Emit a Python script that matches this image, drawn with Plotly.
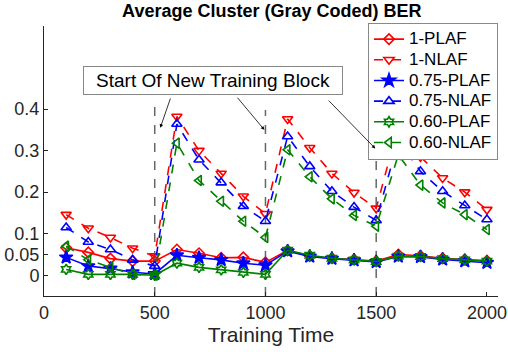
import plotly.graph_objects as go

# training time samples
t = [100, 200, 300, 400, 500, 600, 700, 800, 900, 1000,
     1100, 1200, 1300, 1400, 1500, 1600, 1700, 1800, 1900, 2000]

# BER values
plaf_1 = [0.066, 0.055, 0.040, 0.034, 0.034, 0.062, 0.053, 0.042, 0.043, 0.031,
          0.060, 0.046, 0.041, 0.038, 0.034, 0.050, 0.047, 0.041, 0.038, 0.035]
nlaf_1 = [0.146, 0.113, 0.091, 0.065, 0.046, 0.382, 0.300, 0.245, 0.190, 0.148,
          0.376, 0.307, 0.245, 0.199, 0.161, 0.360, 0.285, 0.234, 0.200, 0.158]
plaf_075 = [0.043, 0.022, 0.016, 0.007, 0.003, 0.048, 0.042, 0.037, 0.029, 0.024,
            0.058, 0.045, 0.040, 0.036, 0.032, 0.045, 0.044, 0.038, 0.034, 0.030]
nlaf_075 = [0.115, 0.080, 0.062, 0.037, 0.022, 0.364, 0.278, 0.223, 0.166, 0.130,
            0.334, 0.262, 0.202, 0.164, 0.132, 0.325, 0.250, 0.202, 0.168, 0.134]
plaf_060 = [0.014, 0.002, 0.002, 0.002, 0.000, 0.029, 0.019, 0.013, 0.007, 0.002,
            0.060, 0.048, 0.041, 0.037, 0.033, 0.046, 0.045, 0.040, 0.037, 0.034]
nlaf_060 = [0.070, 0.037, 0.019, 0.002, 0.000, 0.318, 0.228, 0.178, 0.130, 0.091,
            0.302, 0.237, 0.184, 0.144, 0.118, 0.290, 0.217, 0.174, 0.146, 0.110]

# block boundaries and how high their dashed markers go
blocks = [500, 1000, 1500]
block_tops = [0.422, 0.398, 0.350]

series = [
    ("1-PLAF", plaf_1, "red", "solid", "diamond-open", 8),
    ("1-NLAF", nlaf_1, "red", "dash", "triangle-down-open", 9),
    ("0.75-PLAF", plaf_075, "blue", "solid", "star", 10),
    ("0.75-NLAF", nlaf_075, "blue", "dash", "triangle-up-open", 9),
    ("0.60-PLAF", plaf_060, "green", "solid", "hexagram-open", 8),
    ("0.60-NLAF", nlaf_060, "green", "dash", "triangle-left-open", 9),
]

fig = go.Figure()

# dashed block boundaries
for b, top in zip(blocks, block_tops):
    fig.add_scatter(x=[b, b], y=[-0.05, top], mode="lines",
                    line=dict(color="#666666", width=1.5, dash="dash"),
                    showlegend=False, hoverinfo="skip")

for name, vals, col, dash, sym, size in series:
    fig.add_scatter(
        x=t, y=vals, mode="lines+markers",
        # larger text than the legend font keeps the rows tight like the original
        name=f"<span style='font-size:17px'>{name}</span>",
        line=dict(color=col, width=1.6, dash=dash),
        marker=dict(symbol=sym, size=size, color=col,
                    line=dict(color=col, width=1.6)),
    )

# annotation box + arrows (tail on the box, head at the block boundary)
arrows = [(525, 0.355, 573, 0.429), (995, 0.35, 868, 0.431), (1496, 0.305, 1279, 0.424)]
for x, y, ax, ay in arrows:
    fig.add_annotation(x=x, y=y, ax=ax, ay=ay,
                       xref="x", yref="y", axref="x", ayref="y",
                       text="", showarrow=True, arrowhead=2, arrowsize=0.9,
                       arrowwidth=0.8, arrowcolor="black")
fig.add_annotation(x=764, y=0.47, xref="x", yref="y",
                   text="Start Of New Training Block", showarrow=False,
                   font=dict(size=19, color="black"),
                   bgcolor="white", bordercolor="#888888", borderwidth=1,
                   borderpad=3, width=252)

fig.update_layout(
    width=508, height=352,
    margin=dict(l=44, r=10, t=26, b=56),
    plot_bgcolor="white", paper_bgcolor="white",
    font=dict(family="Liberation Sans, Arial, sans-serif", size=18, color="#262626"),
    title=dict(text="<b>Average Cluster (Gray Coded) BER</b>", x=0.535, y=0.988,
               xanchor="center", yanchor="top",
               font=dict(size=18, color="black")),
    legend=dict(x=1, y=1.012, xanchor="right", yanchor="top",
                bgcolor="white", bordercolor="#888888", borderwidth=1,
                font=dict(size=13.6, color="black"), tracegroupgap=0,
                itemwidth=30),
)

fig.update_xaxes(range=[0, 2050], tickvals=[0, 500, 1000, 1500, 2000],
                 showline=True, linecolor="#262626", linewidth=1,
                 ticks="inside", ticklen=4, tickcolor="#262626",
                 showgrid=False, zeroline=False, automargin=False,
                 title=dict(text="Training Time", font=dict(size=21), standoff=2))
fig.update_yaxes(range=[-0.05, 0.6], tickvals=[0, 0.05, 0.1, 0.2, 0.3, 0.4],
                 ticktext=["0", "0.05", "0.1", "0.2", "0.3", "0.4"],
                 showline=True, linecolor="#262626", linewidth=1,
                 ticks="inside", ticklen=4, tickcolor="#262626",
                 showgrid=False, zeroline=False, automargin=False)

# the page has a default body margin; remove it so the figure sits at 0,0
fig.write_html("out.html", config={"displayModeBar": False},
               post_script="document.body.style.margin='0';")
